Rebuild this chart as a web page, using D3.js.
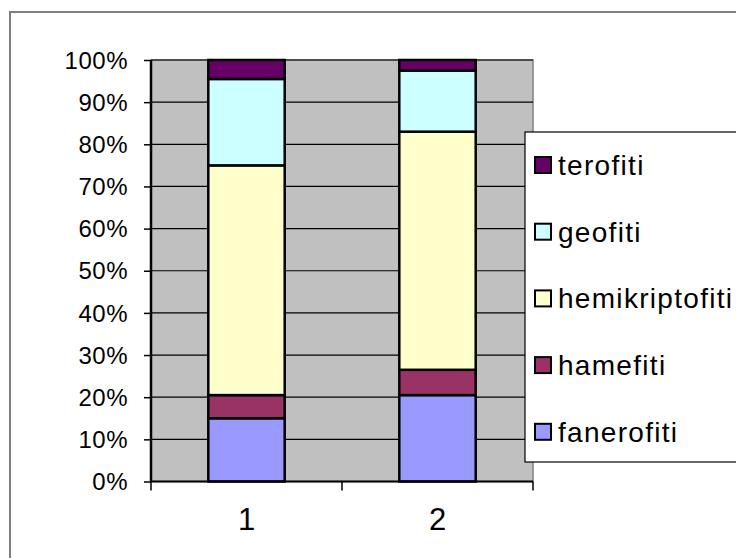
<!DOCTYPE html>
<html><head><meta charset="utf-8">
<script src="https://cdn.jsdelivr.net/npm/d3@7"></script>
<style>body{margin:0;background:#fff}svg{display:block}text{font-family:"Liberation Sans",Arial,sans-serif;fill:#000}</style>
</head><body>
<svg id="c" width="736" height="558"></svg>
<script>
const categories = ["1", "2"];
const seriesNames = ["fanerofiti", "hamefiti", "hemikriptofiti", "geofiti", "terofiti"];
const fanerofiti = [15, 20.5];
const hamefiti = [5.5, 6];
const hemikriptofiti = [54.5, 56.5];
const geofiti = [20.5, 14.5];
const terofiti = [4.5, 2.5];
const colors = ["#9999FF", "#993366", "#FFFFCC", "#CCFFFF", "#660066"];
const yTicks = [0, 0.1, 0.2, 0.3, 0.4, 0.5, 0.6, 0.7, 0.8, 0.9, 1];

const seriesValues = [fanerofiti, hamefiti, hemikriptofiti, geofiti, terofiti];
const rows = categories.map((c, i) => {
  const r = {cat: c};
  seriesNames.forEach((s, j) => r[s] = seriesValues[j][i]);
  return r;
});
const stacked = d3.stack().keys(seriesNames).offset(d3.stackOffsetExpand)(rows);

const svg = d3.select("#c");
// outer chart border
svg.append("rect").attr("x", 10).attr("y", 12).attr("width", 760).attr("height", 600)
  .attr("fill", "#fff").attr("stroke", "#808080").attr("stroke-width", 2);

const L = 151, R = 533, T = 60, B = 481.5;
const x = d3.scaleBand().domain(categories).range([L, R]).paddingInner(0.6).paddingOuter(0.3);
const xb = d3.scaleBand().domain(categories).range([L, R]);
const y = d3.scaleLinear().domain([0, 1]).range([B, T]);

svg.append("rect").attr("x", L).attr("y", T).attr("width", R - L).attr("height", B - T)
  .attr("fill", "#C0C0C0").attr("stroke", "#808080").attr("stroke-width", 1.5);

// gridlines
svg.append("g").selectAll("line").data(yTicks.slice(1)).join("line")
  .attr("x1", L).attr("x2", R).attr("y1", d => y(d)).attr("y2", d => y(d))
  .attr("stroke", "#000").attr("stroke-width", 1.2);

// bars
svg.append("g").selectAll("g").data(stacked).join("g")
  .attr("fill", (d, i) => colors[i])
  .selectAll("rect").data(d => d).join("rect")
  .attr("x", d => x(d.data.cat)).attr("width", x.bandwidth())
  .attr("y", d => y(d[1])).attr("height", d => y(d[0]) - y(d[1]))
  .attr("stroke", "#000").attr("stroke-width", 2.5);

// y axis
const yAxis = d3.axisLeft(y).tickValues(yTicks).tickFormat(d3.format(".0%")).tickSize(7).tickPadding(16);
const gy = svg.append("g").attr("transform", `translate(${L},0)`).call(yAxis);
gy.select(".domain").attr("stroke", "#000").attr("stroke-width", 2.5).attr("d", `M0,${T}V${B}`);
gy.selectAll(".tick line").attr("stroke", "#000").attr("stroke-width", 1.5);
gy.selectAll(".tick text").attr("font-size", 24).attr("font-family", "Liberation Sans, Arial, sans-serif")
  .attr("fill", "#000").attr("letter-spacing", 0.5).attr("dy", "0.34em");

// x axis
const gx = svg.append("g").attr("transform", `translate(0,${B})`);
gx.append("line").attr("x1", L).attr("x2", R).attr("stroke", "#000").attr("stroke-width", 2);
const bounds = [L].concat(categories.map(c => xb(c) + xb.bandwidth()));
gx.selectAll(".tk").data(bounds).join("line").attr("class", "tk")
  .attr("x1", d => d).attr("x2", d => d).attr("y1", 0).attr("y2", 9)
  .attr("stroke", "#000").attr("stroke-width", 1.5);
gx.selectAll(".lb").data(categories).join("text").attr("class", "lb")
  .attr("x", d => xb(d) + xb.bandwidth() / 2).attr("y", 48)
  .attr("text-anchor", "middle").attr("font-size", 31).text(d => d);

// legend
const lg = svg.append("g");
lg.append("rect").attr("x", 525).attr("y", 132).attr("width", 250).attr("height", 330)
  .attr("fill", "#fff").attr("stroke", "#000").attr("stroke-width", 1.2);
const order = seriesNames.map((s, i) => ({s, c: colors[i]})).reverse();
const item = lg.selectAll(".it").data(order).join("g").attr("class", "it")
  .attr("transform", (d, i) => `translate(535,${165 + i * 66.7})`);
item.append("rect").attr("x", 0).attr("y", -8).attr("width", 16).attr("height", 16)
  .attr("fill", d => d.c).attr("stroke", "#000").attr("stroke-width", 2);
item.append("text").attr("x", 23).attr("y", 10).attr("font-size", 28)
  .attr("letter-spacing", 1.3).text(d => d.s);
</script>
</body></html>
